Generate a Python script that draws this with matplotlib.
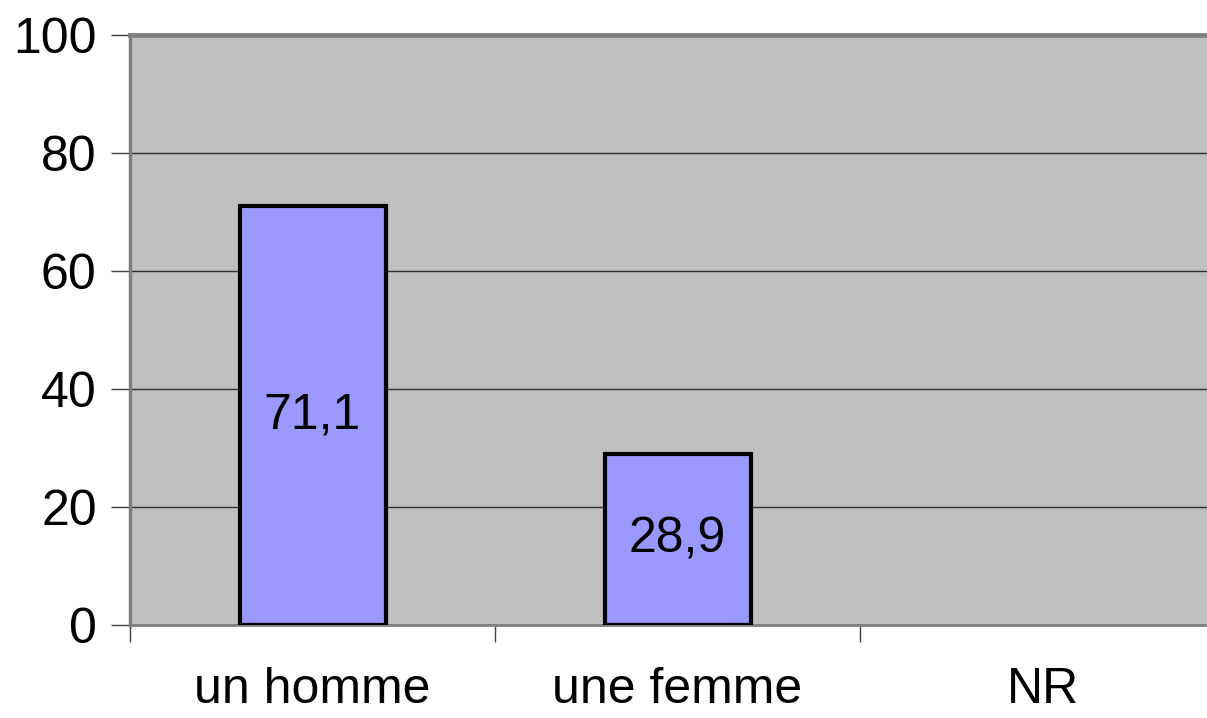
import matplotlib
matplotlib.use("Agg")
import matplotlib.pyplot as plt

categories = ["un homme", "une femme", "NR"]
values = [71.1, 28.9, 0.0]
labels = ["71,1", "28,9", ""]
yticks = [0, 20, 40, 60, 80, 100]

plt.rcParams['font.family'] = ['Liberation Sans', 'DejaVu Sans']

fig = plt.figure(figsize=(12.07, 7.18), dpi=100)
ax = fig.add_axes([130/1207, 93/718, 1095/1207, 590/718])
ax.set_facecolor('#C0C0C0')

x = list(range(len(categories)))
edges = ['black' if v > 0 else 'none' for v in values]
bars = ax.bar(x, values, width=0.4, color='#9999FF', edgecolor=edges, linewidth=3, zorder=3)
ax.bar_label(bars, labels=labels, label_type='center', fontsize=36, color='black')

ax.set_xlim(-0.5, len(categories) - 0.5)
ax.set_ylim(0, 100)
ax.set_yticks(yticks)
ax.set_yticklabels([str(v) for v in yticks], fontsize=36)
ax.yaxis.grid(True, color='#303030', linewidth=1.0, zorder=1)
ax.set_axisbelow(True)

ax.set_xticks([i - 0.5 for i in range(len(categories))], minor=False)
ax.set_xticklabels([])
ax.set_xticks(x, minor=True)
ax.set_xticklabels(categories, minor=True, fontsize=36)
ax.tick_params(axis='x', which='minor', length=0, pad=30)
ax.tick_params(axis='x', which='major', length=12, width=1, color='#404040', direction='out')
ax.tick_params(axis='y', length=14, width=1, color='#404040', direction='out', pad=10)

ax.spines['top'].set_color('#808080')
ax.spines['top'].set_linewidth(3.5)
ax.spines['left'].set_color('#808080')
ax.spines['left'].set_linewidth(2.5)
ax.spines['bottom'].set_color('#808080')
ax.spines['bottom'].set_linewidth(2)
ax.spines['right'].set_visible(False)

fig.savefig('out.png', dpi=100, facecolor='white')
